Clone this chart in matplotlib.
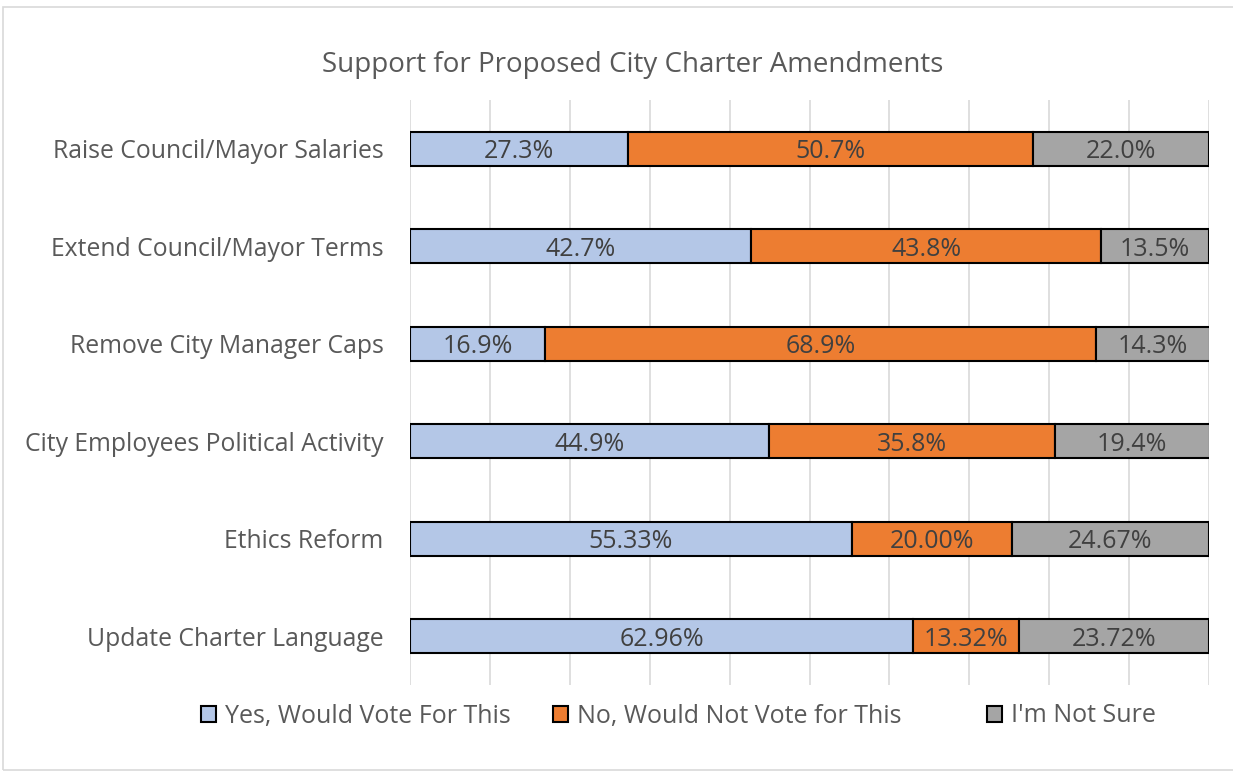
import matplotlib
matplotlib.use("Agg")
import matplotlib.pyplot as plt
from matplotlib.patches import Rectangle

categories = ["Raise Council/Mayor Salaries", "Extend Council/Mayor Terms",
              "Remove City Manager Caps", "City Employees Political Activity",
              "Ethics Reform", "Update Charter Language"]
yes_vals = [27.3, 42.7, 16.9, 44.9, 55.33, 62.96]
no_vals = [50.7, 43.8, 68.9, 35.8, 20.00, 13.32]
unsure_vals = [22.0, 13.5, 14.3, 19.4, 24.67, 23.72]
decimals = [1, 1, 1, 1, 2, 2]
series_names = ["Yes, Would Vote For This", "No, Would Not Vote for This", "I'm Not Sure"]
colors = ["#B4C7E7", "#ED7D31", "#A5A5A5"]

plt.rcParams['font.family'] = ['Open Sans', 'DejaVu Sans']

fig = plt.figure(figsize=(12.33, 7.73), dpi=100)
ax = fig.add_axes([410/1233, 1-685/773, (1209-410)/1233, 585/773])

series = [yes_vals, no_vals, unsure_vals]
ypos = list(range(len(categories)))
left = [0.0]*len(categories)
handles = []
for vals, col, name in zip(series, colors, series_names):
    bars = ax.barh(ypos, vals, left=left, height=0.35, color=col,
                   edgecolor="black", linewidth=1.5, label=name, zorder=3)
    handles.append(bars)
    for i, v in enumerate(vals):
        ax.text(left[i] + v/2, ypos[i], f"{v:.{decimals[i]}f}%", ha="center",
                va="center_baseline", fontsize=18, color="#404040", zorder=4)
    left = [l + v for l, v in zip(left, vals)]

ax.set_xlim(0, 100)
ax.set_ylim(len(categories)-0.5, -0.5)
ax.set_xticks(range(0, 101, 10))
ax.set_xticklabels([])
ax.tick_params(axis='x', length=0)
ax.tick_params(axis='y', length=0, pad=19, labelsize=17.8, labelcolor="#595959")
ax.set_yticks(ypos)
ax.set_yticklabels(categories)
ax.grid(axis='x', color="#D9D9D9", linewidth=1.2, zorder=0)
for s in ax.spines.values():
    s.set_visible(False)

fig.text(633/1233, 1-65/773, "Support for Proposed City Charter Amendments",
         ha="center", va="center", fontsize=20, color="#595959")

legend_x = [201/1233, 553/1233, 987/1233]
for h, name, x in zip(handles, series_names, legend_x):
    leg = fig.legend([h], [name], loc="center left", bbox_to_anchor=(x, 1-716/773),
                     frameon=False, fontsize=18, handlelength=0.6, handleheight=0.6,
                     handletextpad=0.35, borderpad=0, borderaxespad=0)
    for t in leg.get_texts():
        t.set_color("#595959")

fig.patches.append(Rectangle((3/1233, 3/773), 1.1, 1-10/773, transform=fig.transFigure,
                             fill=False, edgecolor="#D9D9D9", linewidth=1.2))

fig.savefig("out.png", dpi=100)
